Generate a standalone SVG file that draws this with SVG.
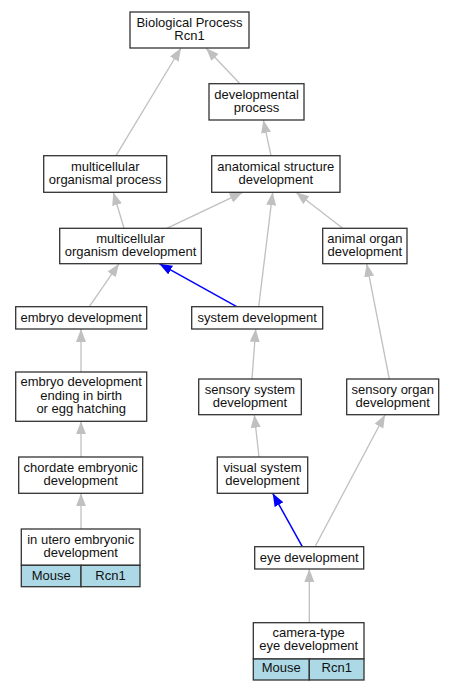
<svg xmlns="http://www.w3.org/2000/svg" width="453" height="691" viewBox="0 0 453 691">
<style>
.b{fill:#fff;stroke:#333;stroke-width:1.3}
.c{fill:#add8e6;stroke:#333;stroke-width:1.3}
.d{stroke:#333;stroke-width:1.3}
text{font-family:"Liberation Sans",Arial,sans-serif;font-size:13px;fill:#111;text-anchor:middle}
.g{stroke:#c0c0c0;stroke-width:1.3;fill:none;marker-end:url(#ag)}
.u{stroke:#0000ff;stroke-width:1.5;fill:none;marker-end:url(#ab)}
</style>
<defs>
<marker id="ag" markerUnits="userSpaceOnUse" markerWidth="14" markerHeight="11" refX="13" refY="5" orient="auto"><path d="M0,0 L13,5 L0,10 z" fill="#c0c0c0"/></marker>
<marker id="ab" markerUnits="userSpaceOnUse" markerWidth="14" markerHeight="11" refX="13" refY="5" orient="auto"><path d="M0,0 L13,5 L0,10 z" fill="#0000ff"/></marker>
</defs>
<rect width="453" height="691" fill="#fff"/>
<g id="edges">
<line class="g" x1="116" y1="155.7" x2="181" y2="48"/>
<line class="g" x1="240" y1="83.7" x2="206" y2="48"/>
<line class="g" x1="271" y1="155.7" x2="263.3" y2="120"/>
<line class="g" x1="124" y1="228.3" x2="113.3" y2="192.3"/>
<line class="g" x1="166.7" y1="228.3" x2="242.7" y2="192.3"/>
<line class="g" x1="258.7" y1="306.7" x2="272.7" y2="192.3"/>
<line class="g" x1="342.7" y1="228.3" x2="296" y2="192.3"/>
<line class="g" x1="89.3" y1="306.7" x2="119" y2="263.7"/>
<line class="u" x1="236.7" y1="306.7" x2="159.3" y2="263.7"/>
<line class="g" x1="81" y1="372" x2="81" y2="329"/>
<line class="g" x1="252" y1="379" x2="255.7" y2="329"/>
<line class="g" x1="389.3" y1="379" x2="366.7" y2="263.7"/>
<line class="g" x1="81" y1="457" x2="81" y2="421.3"/>
<line class="g" x1="259" y1="457" x2="254.3" y2="414.7"/>
<line class="g" x1="315" y1="546.7" x2="385" y2="414.7"/>
<line class="u" x1="302.3" y1="546.7" x2="272.7" y2="493.3"/>
<line class="g" x1="81" y1="529" x2="81" y2="493.3"/>
<line class="g" x1="309.3" y1="622.7" x2="309.3" y2="569"/>
</g>
<g id="bp"><rect class="b" x="130" y="12" width="119" height="36"/><text x="189.5" y="26.5">Biological Process</text><text x="189.5" y="39.5">Rcn1</text></g>
<g id="dp"><rect class="b" x="209" y="83.7" width="95" height="36.3"/><text x="256.5" y="98.5">developmental</text><text x="256.5" y="111.5">process</text></g>
<g id="mop"><rect class="b" x="43.7" y="155.7" width="123" height="36.6"/><text x="105.2" y="170.5">multicellular</text><text x="105.2" y="183.5">organismal process</text></g>
<g id="asd"><rect class="b" x="211.7" y="155.7" width="128.3" height="36.6"/><text x="275.8" y="170.5">anatomical structure</text><text x="275.8" y="183.5">development</text></g>
<g id="mod"><rect class="b" x="59.7" y="228.3" width="141.6" height="35.4"/><text x="130.5" y="242.8">multicellular</text><text x="130.5" y="255.8">organism development</text></g>
<g id="aod"><rect class="b" x="322.7" y="228.3" width="84.3" height="35.4"/><text x="364.8" y="242.8">animal organ</text><text x="364.8" y="255.8">development</text></g>
<g id="ed"><rect class="b" x="15.7" y="306.7" width="131" height="22.3"/><text x="81.2" y="322.4">embryo development</text></g>
<g id="sd"><rect class="b" x="191.7" y="306.7" width="131" height="22.3"/><text x="257.2" y="322.4">system development</text></g>
<g id="edb"><rect class="b" x="15.7" y="372" width="131" height="49.3"/><text x="81.2" y="386.2">embryo development</text><text x="81.2" y="399.6">ending in birth</text><text x="81.2" y="413.2">or egg hatching</text></g>
<g id="ssd"><rect class="b" x="198.7" y="379" width="102.6" height="35.7"/><text x="250" y="393.5">sensory system</text><text x="250" y="406.5">development</text></g>
<g id="sod"><rect class="b" x="346.7" y="379" width="92" height="35.7"/><text x="392.7" y="393.5">sensory organ</text><text x="392.7" y="406.5">development</text></g>
<g id="ced"><rect class="b" x="18.7" y="457" width="124" height="36.3"/><text x="80.7" y="471.5">chordate embryonic</text><text x="80.7" y="484.5">development</text></g>
<g id="vsd"><rect class="b" x="217.3" y="457" width="90.4" height="36.3"/><text x="262.5" y="471.5">visual system</text><text x="262.5" y="484.5">development</text></g>
<g id="iued"><rect class="b" x="21.3" y="529" width="118.7" height="36.3"/><rect class="c" x="21.3" y="565.3" width="59.7" height="21.4"/><rect class="c" x="81" y="565.3" width="59" height="21.4"/><text x="80.7" y="543.5">in utero embryonic</text><text x="80.7" y="556.5">development</text><text x="51.2" y="579.5">Mouse</text><text x="110.5" y="579.5">Rcn1</text></g>
<g id="eye"><rect class="b" x="254.7" y="546.7" width="109" height="22.3"/><text x="309.2" y="562.4">eye development</text></g>
<g id="ctd"><rect class="b" x="253.3" y="622.7" width="110.7" height="36.3"/><rect class="c" x="253.3" y="659" width="56" height="21"/><rect class="c" x="309.3" y="659" width="54.7" height="21"/><text x="308.7" y="637.2">camera-type</text><text x="308.7" y="650.2">eye development</text><text x="281.3" y="672.2">Mouse</text><text x="336.7" y="672.2">Rcn1</text></g>
</svg>
